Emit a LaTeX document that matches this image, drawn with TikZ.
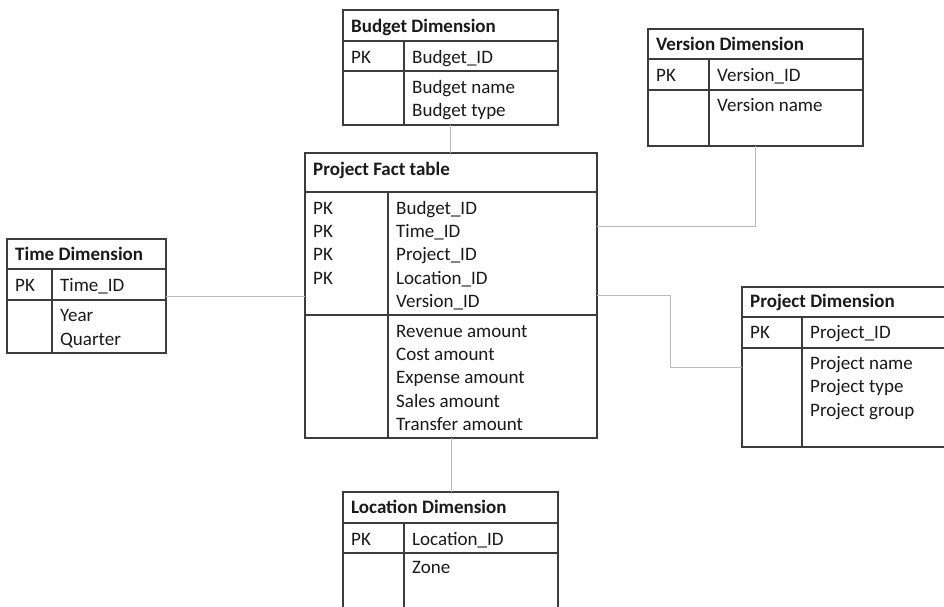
\documentclass[tikz,border=0pt]{standalone}
\usepackage{fontspec}
\setmainfont{Carlito}
\definecolor{bd}{HTML}{3C3C3C}
\definecolor{lk}{HTML}{BBBBBB}
\definecolor{tx}{HTML}{1A1A1A}
\begin{document}
\begin{tikzpicture}[x=1pt,y=-1pt,
  tbox/.style={draw=bd, line width=1.3pt, inner sep=0pt, outer sep=0pt, anchor=north west, rectangle},
  sep/.style={draw=bd, line width=1.3pt},
  link/.style={draw=lk, line width=1pt},
  txt/.style={anchor=base west, inner sep=0pt, font=\fontsize{19}{23}\selectfont, text=tx},
  hdr/.style={txt, font=\fontsize{19}{23}\selectfont\bfseries}]
\clip (0,0) rectangle (944,606);
\fill[white] (0,0) rectangle (944,606);

% ---------- Budget Dimension
\node[tbox, minimum width=215pt, minimum height=115pt] (budget) at (343,10) {};
\draw[sep] (343,41) -- (558,41) (343,71) -- (558,71) (404,41) -- (404,125);
\node[hdr] (bh) at (351,32) {Budget Dimension};
\node[txt] (bpk) at (351,63) {PK};
\node[txt] (bid) at (412,63) {Budget\_ID};
\node[txt] (bf1) at (412,93.3) {Budget name};
\node[txt] (bf2) at (412,116.7) {Budget type};

% ---------- Version Dimension
\node[tbox, minimum width=215pt, minimum height=117pt] (version) at (648,29) {};
\draw[sep] (648,59) -- (863,59) (648,90) -- (863,90) (709,59) -- (709,146);
\node[hdr] (vh) at (656,50.7) {Version Dimension};
\node[txt] (vpk) at (656,81.7) {PK};
\node[txt] (vid) at (717,81.7) {Version\_ID};
\node[txt] (vf1) at (717,111.7) {Version name};

% ---------- Time Dimension
\node[tbox, minimum width=159pt, minimum height=114pt] (time) at (7,239) {};
\draw[sep] (7,269) -- (166,269) (7,300) -- (166,300) (52,269) -- (52,353);
\node[hdr] (th) at (15,260.7) {Time Dimension};
\node[txt] (tpk) at (15,291.7) {PK};
\node[txt] (tid) at (60,291.7) {Time\_ID};
\node[txt] (tf1) at (60,321.7) {Year};
\node[txt] (tf2) at (60,345) {Quarter};

% ---------- Project Fact table
\node[tbox, minimum width=292pt, minimum height=285pt] (fact) at (305,153) {};
\draw[sep] (305,192) -- (597,192) (305,315) -- (597,315) (388,192) -- (388,438);
\node[hdr] (fh) at (313,175.7) {Project Fact table};
\node[txt] (fpk1) at (313,214) {PK};
\node[txt] (fpk2) at (313,237.3) {PK};
\node[txt] (fpk3) at (313,260.7) {PK};
\node[txt] (fpk4) at (313,284) {PK};
\node[txt] (fk1) at (396,214) {Budget\_ID};
\node[txt] (fk2) at (396,237.3) {Time\_ID};
\node[txt] (fk3) at (396,260.7) {Project\_ID};
\node[txt] (fk4) at (396,284) {Location\_ID};
\node[txt] (fk5) at (396,307.3) {Version\_ID};
\node[txt] (fm1) at (396,337) {Revenue amount};
\node[txt] (fm2) at (396,360.3) {Cost amount};
\node[txt] (fm3) at (396,383.7) {Expense amount};
\node[txt] (fm4) at (396,407) {Sales amount};
\node[txt] (fm5) at (396,430.3) {Transfer amount};

% ---------- Project Dimension
\node[tbox, minimum width=260pt, minimum height=160pt] (project) at (742,287) {};
\draw[sep] (742,317) -- (1002,317) (742,348) -- (1002,348) (802,317) -- (802,447);
\node[hdr] (ph) at (750,307.3) {Project Dimension};
\node[txt] (ppk) at (750,338.3) {PK};
\node[txt] (pid) at (810,338.3) {Project\_ID};
\node[txt] (pf1) at (810,369.3) {Project name};
\node[txt] (pf2) at (810,392.7) {Project type};
\node[txt] (pf3) at (810,416) {Project group};

% ---------- Location Dimension
\node[tbox, minimum width=215pt, minimum height=150pt] (location) at (343,492) {};
\draw[sep] (343,523) -- (558,523) (343,553) -- (558,553) (404,523) -- (404,642);
\node[hdr] (lh) at (351,513.3) {Location Dimension};
\node[txt] (lpk) at (351,545) {PK};
\node[txt] (lid) at (412,545) {Location\_ID};
\node[txt] (lf1) at (412,573.3) {Zone};

% ---------- connectors
\draw[link] (budget.south) -- (budget.south |- fact.north);
\draw[link] (time.east) -- (time.east -| fact.west);
\draw[link] (version.south) |- ([yshift=-73pt]fact.north east);
\draw[link] ([yshift=-142pt]fact.north east) -- ++(73,0) |- (project.west);
\draw[link] (fact.south) -- (fact.south |- location.north);
\end{tikzpicture}
\end{document}
